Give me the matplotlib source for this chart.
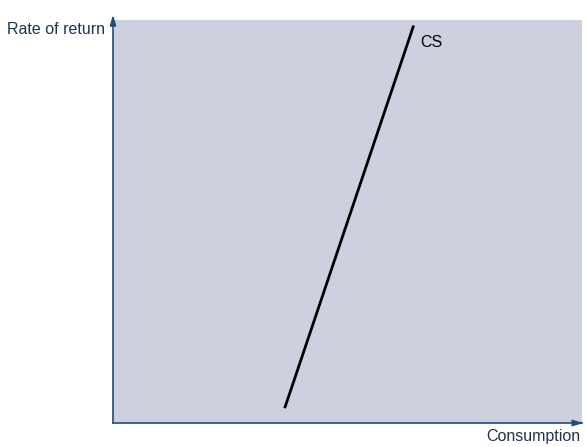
import matplotlib
matplotlib.use("Agg")
import matplotlib.pyplot as plt

# curve endpoints (consumption, rate of return) on a 0-100 scale
cs_x = [36.7, 64.0]
cs_y = [4.0, 98.3]
curve_label = "CS"
x_label = "Consumption"
y_label = "Rate of return"

axis_col = "#1f4e79"
text_col = "#1c3550"

fig = plt.figure(figsize=(5.86, 4.47), dpi=100)
ax = fig.add_axes([113 / 586, 24 / 447, 469 / 586, 403 / 447])
ax.set_xlim(0, 100)
ax.set_ylim(0, 100)
ax.set_facecolor("#cdd1df")
for s in ["top", "right"]:
    ax.spines[s].set_visible(False)
for s in ["left", "bottom"]:
    ax.spines[s].set_color(axis_col)
    ax.spines[s].set_linewidth(1.2)
ax.set_xticks([])
ax.set_yticks([])

# arrow heads on the axes
ax.annotate("", xy=(0, 1.02), xytext=(0, 0.99), xycoords="axes fraction",
            arrowprops=dict(arrowstyle="-|>,head_width=0.18,head_length=0.6",
                            color=axis_col, lw=1.2), annotation_clip=False)
ax.annotate("", xy=(1.009, 0), xytext=(0.99, 0), xycoords="axes fraction",
            arrowprops=dict(arrowstyle="-|>,head_width=0.18,head_length=0.6",
                            color=axis_col, lw=1.2), annotation_clip=False)

ax.plot(cs_x, cs_y, color="black", lw=2)
ax.text(cs_x[1] + 1.5, cs_y[1] - 4, curve_label, fontsize=11.5, color="black",
        family="Liberation Sans", va="center", ha="left")

fig.text(105 / 586, 1 - 30 / 447, y_label, ha="right", va="center",
         fontsize=11.5, color=text_col, family="Liberation Sans")
fig.text(580 / 586, 1 - 437 / 447, x_label, ha="right", va="center",
         fontsize=11.5, color=text_col, family="Liberation Sans")

fig.savefig("out.png", dpi=100)
